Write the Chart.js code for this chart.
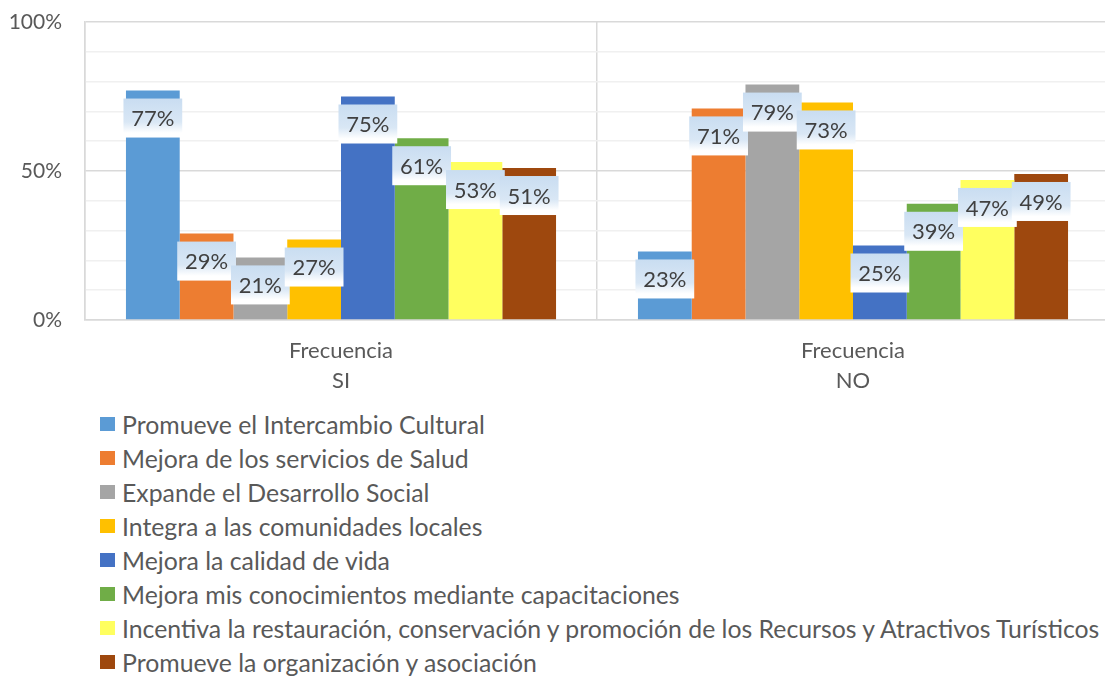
<!DOCTYPE html>
<html>
<head>
<meta charset="utf-8">
<title>Frecuencia</title>
<script src="https://cdn.jsdelivr.net/npm/chart.js@4.4.1/dist/chart.umd.min.js"></script>
<style>
    body { margin: 0; background: #fff; overflow: hidden; width: 1105px; height: 676px; position: relative; font-family: Lato, sans-serif; }
    #wrap { position: absolute; left: 0; top: 0; width: 1112px; height: 400px; }
    #legend { position: absolute; left: 100px; top: 407px; margin: 0; padding: 0; list-style: none; }
    #legend li { height: 34px; display: flex; align-items: center; font-size: 24.8px; color: #595959; white-space: nowrap; }
    #legend .box { width: 15px; height: 14px; margin-right: 7px; flex: none; }
</style>
</head>
<body>
<div id="wrap"><canvas id="mainChart" width="1112" height="400"></canvas></div>
<ul id="legend"></ul>
<script>
// categories on the x axis (two-line labels)
const categories = [['Frecuencia', 'SI'], ['Frecuencia', 'NO']];

const seriesNames = [
    'Promueve el Intercambio Cultural',
    'Mejora de los servicios de Salud',
    'Expande el Desarrollo Social',
    'Integra a las comunidades locales',
    'Mejora la calidad de vida',
    'Mejora mis conocimientos mediante capacitaciones',
    'Incentiva la restauración, conservación y promoción de los Recursos y Atractivos Turísticos',
    'Promueve la organización y asociación'
];

const seriesColors = ['#5B9BD5', '#ED7D31', '#A5A5A5', '#FFC000', '#4472C4', '#70AD47', '#FFFF5F', '#9E480E'];

// percentages per series, one array per category
const siValues = [77, 29, 21, 27, 75, 61, 53, 51];
const noValues = [23, 71, 79, 73, 25, 39, 47, 49];

const yTicks = [0, 50, 100];

// boxed labels drawn inside the top of each bar
const labelBoxes = {
    id: 'labelBoxes',
    afterDatasetsDraw(chart) {
        const ctx = chart.ctx;
        ctx.save();
        ctx.font = '22px Lato';
        ctx.textAlign = 'center';
        ctx.textBaseline = 'middle';
        chart.data.datasets.forEach((ds, i) => {
            chart.getDatasetMeta(i).data.forEach((bar, j) => {
                const w = bar.width + 5, h = 39;
                const x = bar.x - w / 2, y = bar.y + 8;
                const g = ctx.createLinearGradient(0, y, 0, y + h);
                g.addColorStop(0, '#c9ddf1');
                g.addColorStop(0.6, '#d9e7f5');
                g.addColorStop(0.88, '#ffffff');
                ctx.fillStyle = g;
                ctx.fillRect(x, y, w, h);
                ctx.fillStyle = '#404040';
                ctx.fillText(ds.data[j] + '%', bar.x, y + h / 2 + 1);
            });
        });
        ctx.restore();
    }
};

function buildLegend() {
    const list = document.getElementById('legend');
    seriesNames.forEach((name, i) => {
        const li = document.createElement('li');
        const box = document.createElement('span');
        box.className = 'box';
        box.style.background = seriesColors[i];
        li.appendChild(box);
        li.appendChild(document.createTextNode(name));
        list.appendChild(li);
    });
}

function initializeChart() {
    const ctx = document.getElementById('mainChart').getContext('2d');
    window.mainChart = new Chart(ctx, {
        type: 'bar',
        data: {
            labels: categories,
            datasets: seriesNames.map((name, i) => ({
                label: name,
                data: [siValues[i], noValues[i]],
                backgroundColor: seriesColors[i],
                borderWidth: 0
            }))
        },
        options: {
            responsive: false,
            animation: false,
            layout: { padding: { top: 22, right: 3, left: 0, bottom: 0 } },
            categoryPercentage: 0.84,
            barPercentage: 1,
            plugins: {
                legend: { display: false },
                tooltip: { enabled: false }
            },
            scales: {
                x: {
                    grid: { color: '#d9d9d9', lineWidth: 1.5, drawTicks: false, offset: true },
                    border: { color: '#d9d9d9', width: 1.5 },
                    ticks: { color: '#595959', font: { family: 'Lato', size: 22, lineHeight: 1.36 }, padding: 16, maxRotation: 0 },
                    afterFit: scale => { scale.height = 80; }
                },
                y: {
                    min: 0,
                    max: 100,
                    ticks: {
                        stepSize: 10,
                        color: '#595959',
                        font: { family: 'Lato', size: 21 },
                        padding: 23,
                        callback: v => yTicks.includes(v) ? v + '%' : ''
                    },
                    grid: {
                        drawTicks: false,
                        lineWidth: 1.5,
                        color: c => yTicks.includes(c.tick.value) ? '#d9d9d9' : '#f0f0f0'
                    },
                    border: { color: '#d9d9d9', width: 1.5 },
                    afterFit: scale => {
                        scale.width = 85;
                        // tick padding would otherwise push the plot top down
                        scale.paddingTop = 0;
                        scale.paddingBottom = 0;
                    }
                }
            }
        },
        plugins: [labelBoxes]
    });
}

document.addEventListener('DOMContentLoaded', function() {
    buildLegend();
    document.fonts.load('22px Lato').then(initializeChart, initializeChart);
});
</script>
</body>
</html>
